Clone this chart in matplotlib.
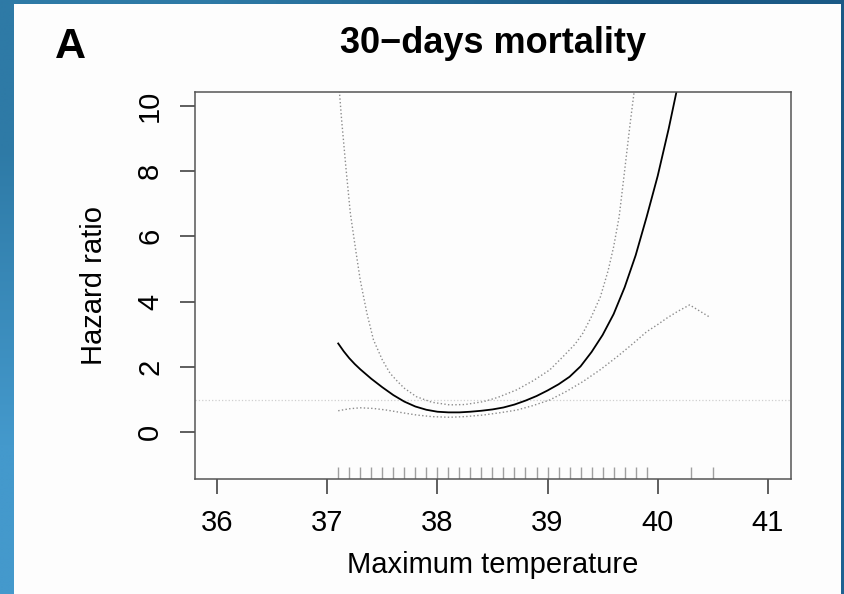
import matplotlib
matplotlib.use("Agg")
import matplotlib.pyplot as plt
import numpy as np
from matplotlib.patches import Rectangle

plt.rcParams['font.family'] = ['Liberation Sans', 'DejaVu Sans']

# fitted hazard ratio (solid)
temp_fit = [37.1, 37.15, 37.2, 37.25, 37.3, 37.4, 37.5, 37.6, 37.7, 37.8, 37.9, 38.0,
            38.1, 38.2, 38.3, 38.4, 38.5, 38.6, 38.7, 38.8, 38.9, 39.0,
            39.1, 39.2, 39.3, 39.4, 39.5, 39.6, 39.7, 39.8, 39.9, 40.0,
            40.1, 40.2]
hr_fit = [2.72, 2.48, 2.27, 2.09, 1.93, 1.64, 1.38, 1.14, 0.94, 0.79, 0.69, 0.63,
          0.61, 0.61, 0.63, 0.66, 0.70, 0.76, 0.85, 0.97, 1.11, 1.28,
          1.47, 1.70, 2.02, 2.46, 2.98, 3.62, 4.44, 5.42, 6.60, 7.85,
          9.30, 10.9]

# upper confidence band (dotted)
temp_up = [37.10, 37.13, 37.17, 37.21, 37.26, 37.30, 37.36, 37.42, 37.50, 37.57,
           37.64, 37.70, 37.81, 37.95, 38.11, 38.25, 38.42, 38.55, 38.72, 38.87,
           39.02, 39.15, 39.25, 39.32, 39.40, 39.48, 39.55, 39.60, 39.65, 39.69,
           39.75, 39.80]
hr_up = [10.9, 9.60, 8.10, 6.71, 5.55, 4.66, 3.65, 2.83, 2.22, 1.81,
         1.55, 1.35, 1.09, 0.92, 0.84, 0.85, 0.94, 1.07, 1.30, 1.58,
         1.91, 2.35, 2.70, 3.03, 3.55, 4.15, 4.95, 5.68, 6.60, 7.73,
         9.46, 10.8]

# lower confidence band (dotted)
temp_lo = [37.10, 37.20, 37.30, 37.42, 37.54, 37.68, 37.81, 37.95, 38.11, 38.25,
           38.42, 38.57, 38.72, 38.87, 39.02, 39.17, 39.32, 39.48, 39.63, 39.77,
           39.90, 40.00, 40.08, 40.18, 40.29, 40.48]
hr_lo = [0.66, 0.72, 0.75, 0.73, 0.68, 0.60, 0.53, 0.48, 0.46, 0.48,
         0.53, 0.60, 0.68, 0.82, 0.99, 1.25, 1.55, 1.92, 2.31, 2.70,
         3.08, 3.30, 3.49, 3.70, 3.90, 3.51]

# observed temperatures (rug)
rug = [round(37.1 + 0.1 * i, 1) for i in range(29)] + [40.3, 40.5]

xticks = [36, 37, 38, 39, 40, 41]
yticks = [0, 2, 4, 6, 8, 10]

fig = plt.figure(figsize=(8.44, 5.94), dpi=100)

# blue gradient backdrop + white panel
bg = fig.add_axes([0, 0, 1, 1], zorder=0)
grad = np.array([[[0x2e, 0x7a, 0xa6], [0x1b, 0x5a, 0x86]],
                 [[0x44, 0x99, 0xcc], [0x1e, 0x62, 0x92]]]) / 255.0
bg.imshow(grad, extent=[0, 1, 0, 1], aspect='auto', interpolation='bilinear',
          origin='upper')
bg.add_patch(Rectangle((14 / 844, 0), (841 - 14) / 844, (594 - 4) / 594,
                       facecolor='#fdfdfd', edgecolor='none'))
bg.set_xlim(0, 1)
bg.set_ylim(0, 1)
bg.axis('off')

ax = fig.add_axes([195 / 844, 1 - 479 / 594, 596 / 844, 387 / 594], zorder=1)
ax.patch.set_alpha(0)

ax.axhline(1, color='#cfcfcf', linestyle=':', linewidth=0.9)
ax.plot(temp_up, hr_up, color='#8c8c8c', linestyle=':', linewidth=1.0)
ax.plot(temp_lo, hr_lo, color='#8c8c8c', linestyle=':', linewidth=1.0)
ax.plot(temp_fit, hr_fit, color='black', linewidth=1.3)
ax.vlines(rug, 0, 0.031, transform=ax.get_xaxis_transform(),
          color='#a0a0a0', linewidth=1.0)

ax.set_xlim(35.80, 41.21)
ax.set_ylim(-1.43, 10.42)
ax.set_xticks(xticks)
ax.set_yticks(yticks)
ax.set_yticklabels([str(v) for v in yticks], rotation=90, va='center')
ax.tick_params(direction='out', length=10.8, width=1.1, color='#333333',
               labelsize=21)
ax.tick_params(axis='x', pad=11)
ax.tick_params(axis='y', pad=11.5)
for s in ax.spines.values():
    s.set_color('#555555')
    s.set_linewidth(1.1)

ax.set_xlabel('Maximum temperature', fontsize=21, labelpad=10)
ax.set_ylabel('Hazard ratio', fontsize=21, labelpad=20)
ax.set_title('30\u2212days mortality', fontsize=26, fontweight='bold', pad=28)

fig.text(55 / 844, 1 - 58 / 594, 'A', fontsize=31, fontweight='bold',
         ha='left', va='baseline')

fig.savefig('out.png', dpi=100)
